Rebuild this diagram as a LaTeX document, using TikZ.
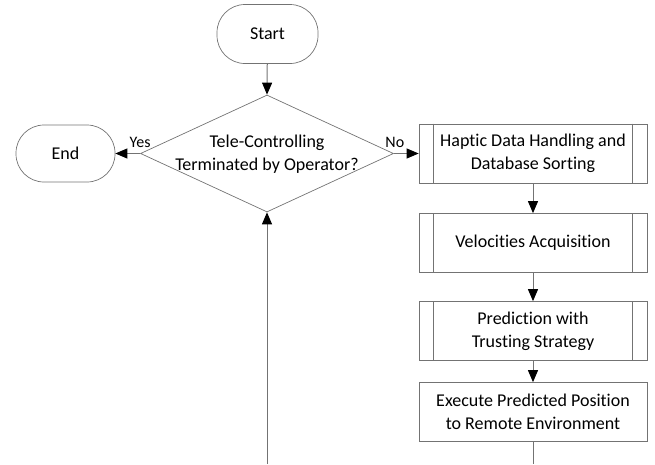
\documentclass[tikz,border=0pt]{standalone}
\usepackage{fontspec}
\setmainfont[Ligatures={NoCommon}]{Carlito}
\usetikzlibrary{shapes.geometric,arrows.meta}
\begin{document}
\begin{tikzpicture}[x=1pt,y=-1pt,
  font=\fontsize{18}{23}\selectfont,
  base/.style={draw=black!55,line width=0.7pt,inner sep=0pt,align=center},
  term/.style={base,rounded corners=28pt,minimum width=101pt,minimum height=59pt},
  proc/.style={base,minimum width=228pt,minimum height=59pt},
  dia/.style={base,diamond,minimum width=253pt,minimum height=117pt},
  conn/.style={draw=black!55,line width=1pt,-{Triangle[length=12pt,width=10pt,color=black]}},
  plain/.style={draw=black!55,line width=1pt},
  lab/.style={font=\fontsize{16}{18}\selectfont,anchor=base,inner sep=0pt}]
\useasboundingbox (0,0) rectangle (655,464);
\node[term] (start) at (267.5,34) {Start};
\node[dia] (dec) at (267,153.5) {};
\node[align=center] (dectext) at (267,154) {Tele-Controlling\\Terminated by Operator?};
\node[term,minimum width=99pt,minimum height=57pt] (end) at (65.5,153.5) {End};
\node[proc] (b1) at (533,153.5) {Haptic Data Handling and\\Database Sorting};
\node[proc] (b2) at (533,243) {Velocities Acquisition};
\node[proc] (b3) at (533,331) {Prediction with\\Trusting Strategy};
\node[proc] (b4) at (533,412) {Execute Predicted Position\\to Remote Environment};
\foreach \b in {b1,b2,b3}{
  \draw[draw=black!55,line width=0.7pt] ([xshift=15pt]\b.north west) -- ([xshift=15pt]\b.south west);
  \draw[draw=black!55,line width=0.7pt] ([xshift=-15pt]\b.north east) -- ([xshift=-15pt]\b.south east);
}
\coordinate (c1) at (533,464);
\coordinate (c2) at (267,464);
\draw[conn] (start) -- (dec.north);
\draw[conn] (dec.west) -- (end.east);
\draw[conn] (dec.east) -- (b1.west);
\node[lab] (yes) at ([yshift=6pt]dec.west) {Yes};
\node[lab] (no) at ([yshift=6pt,xshift=1pt]dec.east) {No};
\draw[conn] (b1) -- (b2);
\draw[conn] (b2) -- (b3);
\draw[conn] (b3) -- (b4);
\draw[plain] (b4) -- (c1);
\draw[conn] (c2) -- (dec.south);
\end{tikzpicture}
\end{document}
